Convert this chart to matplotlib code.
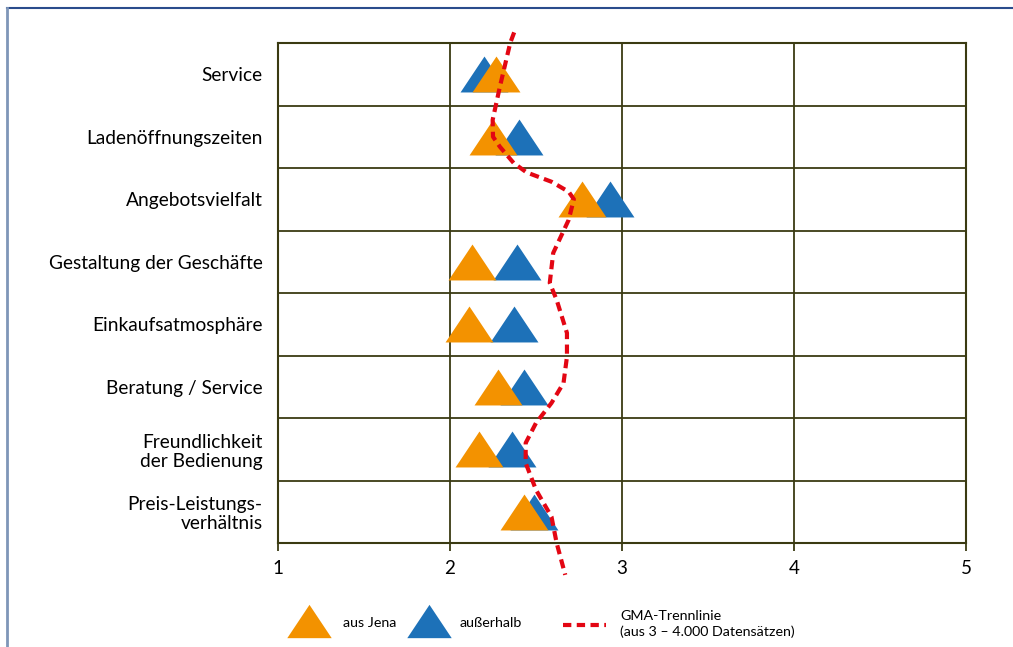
import numpy as np
import matplotlib
matplotlib.use("Agg")
import matplotlib.pyplot as plt

plt.rcParams['font.family'] = ['Lato', 'DejaVu Sans']

# categories (top to bottom)
kategorien = ["Service", "Ladenöffnungszeiten", "Angebotsvielfalt",
              "Gestaltung der Geschäfte", "Einkaufsatmosphäre",
              "Beratung / Service", "Freundlichkeit\nder Bedienung",
              "Preis-Leistungs-\nverhältnis"]

# mean ratings
aus_jena = [2.27, 2.25, 2.77, 2.13, 2.11, 2.28, 2.17, 2.43]
ausserhalb = [2.20, 2.40, 2.93, 2.39, 2.37, 2.43, 2.36, 2.49]

# GMA separation line (row position, rating)
gma_y = [-0.17, 0.0, 0.70, 1.23, 1.50, 1.66, 1.92, 2.07, 2.22, 2.38, 2.50,
         2.83, 3.36, 3.84, 4.11, 4.64, 5.02, 5.44, 5.76, 6.08, 6.40, 6.72,
         7.15, 7.58, 8.00, 8.51]
gma_x = [2.373, 2.35, 2.29, 2.248, 2.25, 2.29, 2.37, 2.445, 2.59, 2.69, 2.72,
         2.69, 2.60, 2.58, 2.62, 2.68, 2.68, 2.66, 2.59, 2.50, 2.44, 2.44,
         2.50, 2.59, 2.62, 2.67]

orange = "#F39200"
blau = "#1D71B8"
rot = "#E30613"
gitter = "#3A3A12"

tri = [(-1, -0.75), (1, -0.75), (0, 0.75)]

fig = plt.figure(figsize=(10.13, 6.47), dpi=100)
ax = fig.add_axes([278/1013, 1-543/647, 688/1013, 500/647])

y = np.arange(len(kategorien)) + 0.5
ax.scatter(ausserhalb, y, marker=tri, s=34.5**2, color=blau, linewidths=0, zorder=3)
ax.scatter(aus_jena, y, marker=tri, s=34.5**2, color=orange, linewidths=0, zorder=4)
ax.plot(gma_x, gma_y, color=rot, lw=3.0, dashes=(2.2, 1.3), clip_on=False, zorder=5)

ax.set_xlim(1, 5)
ax.set_ylim(len(kategorien), 0)
ax.set_xticks([1, 2, 3, 4, 5])
ax.set_yticks(y)
ax.set_yticklabels(kategorien, linespacing=1.15)
ax.set_yticks(np.arange(len(kategorien) + 1), minor=True)
ax.tick_params(axis='y', which='both', length=0, pad=11, labelsize=13.8)
ax.tick_params(axis='x', length=6, width=1.3, color=gitter, labelsize=13.5, pad=6)
ax.grid(True, axis='x', color=gitter, lw=1.3)
ax.grid(True, axis='y', which='minor', color=gitter, lw=1.3)
for s in ax.spines.values():
    s.set_color(gitter)
    s.set_linewidth(1.5)
ax.set_axisbelow(True)

# overlay in pixel coordinates for frame and legend
ov = fig.add_axes([0, 0, 1, 1])
ov.set_xlim(0, 1013)
ov.set_ylim(647, 0)
ov.axis('off')
ov.patch.set_alpha(0)
ov.plot([7, 1013], [8, 8], color="#2A4C8C", lw=1.5)
ov.plot([7, 7], [8, 647], color="#7F96B8", lw=2)

ov.scatter([309], [621], marker=tri, s=32**2, color=orange, linewidths=0)
ov.text(343, 623, "aus Jena", fontsize=10.3, va='center')
ov.scatter([429], [621], marker=tri, s=32**2, color=blau, linewidths=0)
ov.text(460, 623, "außerhalb", fontsize=10.3, va='center')
ov.plot([563, 606], [625, 625], color=rot, lw=3.0, dashes=(2.0, 1.3))
ov.text(620, 624, "GMA-Trennlinie\n(aus 3 – 4.000 Datensätzen)", fontsize=10.3,
        va='center', linespacing=1.25)

fig.savefig("out.png", dpi=100)
